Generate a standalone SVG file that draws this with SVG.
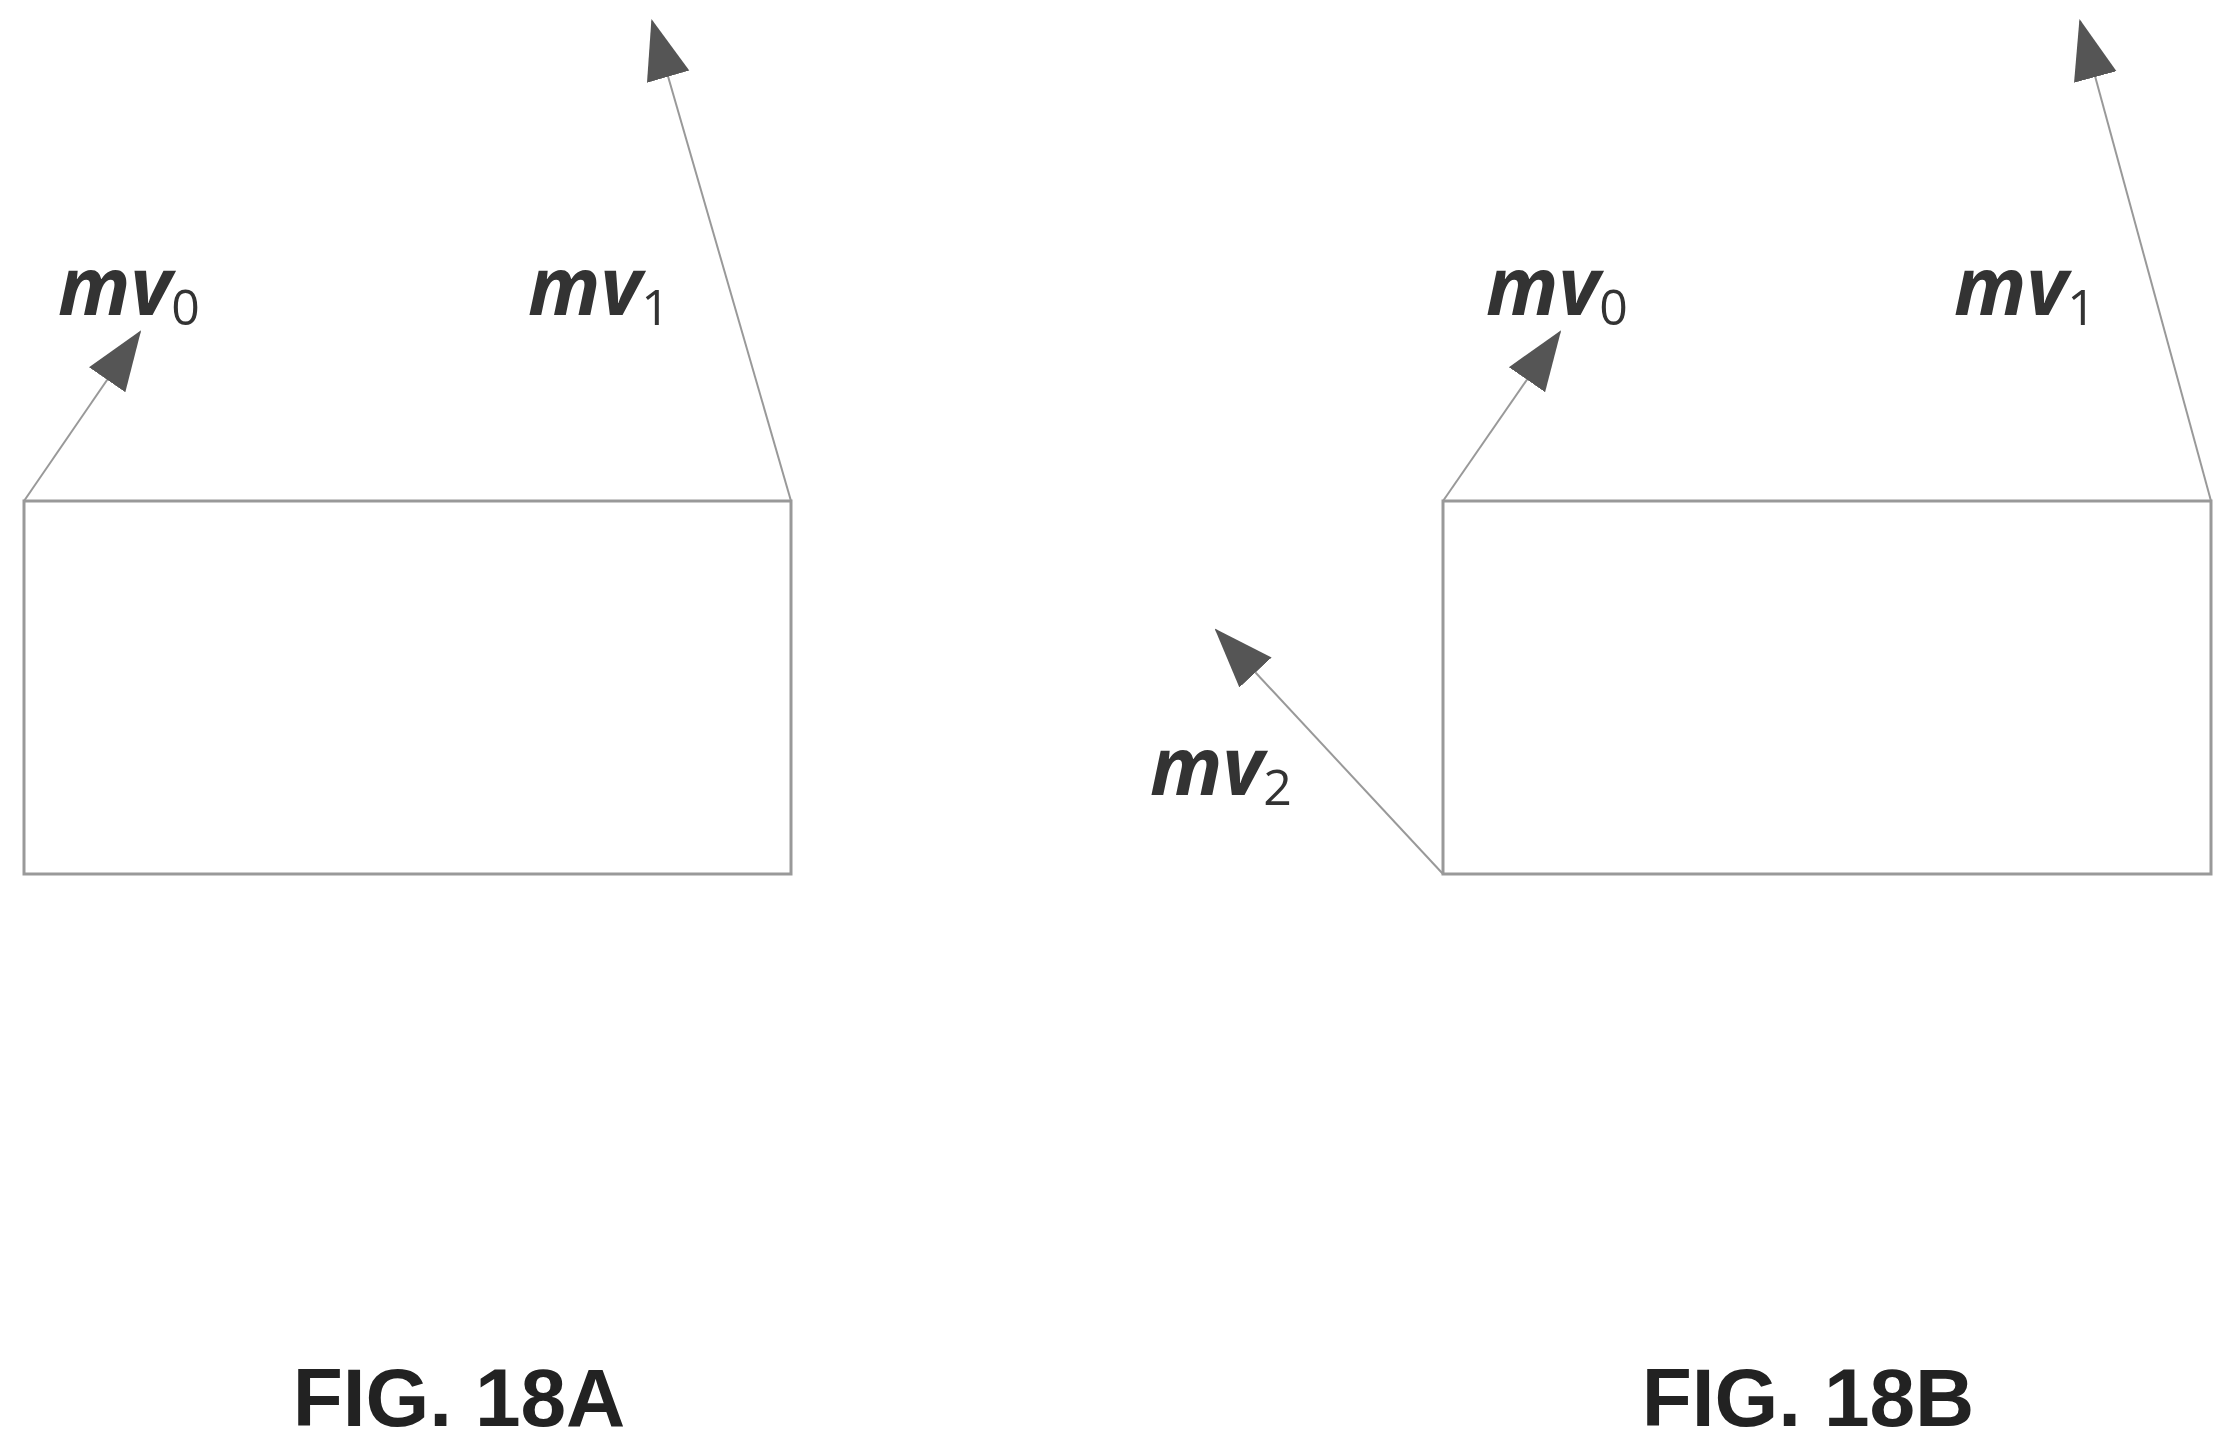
<svg xmlns="http://www.w3.org/2000/svg" width="2236" height="1441" viewBox="0 0 2236 1441">
<style>
.box{fill:#fff;stroke:#999;stroke-width:3}
.ln{stroke:#999;stroke-width:2;fill:none;marker-end:url(#ah)}
.mv{font-family:"Open Sans","Liberation Sans",sans-serif;font-weight:bold;font-style:italic;font-size:80px;fill:#333}
.sub{font-family:"Open Sans","Liberation Sans",sans-serif;font-weight:normal;font-style:normal;font-size:50px;fill:#333}
.fig{font-family:"Liberation Sans",Arial,sans-serif;font-weight:bold;font-size:82px;fill:#222;text-anchor:middle}
</style>
<defs>
<marker id="ah" markerUnits="userSpaceOnUse" markerWidth="60" markerHeight="50" viewBox="0 0 60 50" refX="58" refY="25" orient="auto">
<path d="M0,3 L60,25 L0,47 Z" fill="#555"/>
</marker>
</defs>
<rect width="2236" height="1441" fill="#fff"/>
<g id="boxA"><rect class="box" x="24" y="501" width="767" height="373"/></g>
<g id="boxB"><rect class="box" x="1443" y="501" width="768" height="373"/></g>
<g id="connectors">
<line class="ln" x1="24" y1="501" x2="140" y2="332"/>
<line class="ln" x1="791" y1="501" x2="652" y2="21"/>
<line class="ln" x1="1443" y1="501" x2="1560" y2="332"/>
<line class="ln" x1="2211" y1="501" x2="2080" y2="21"/>
<line class="ln" x1="1443" y1="874" x2="1216" y2="630"/>
</g>
<g id="labels">
<text class="mv" x="58" y="315">mv<tspan class="sub" dy="10">0</tspan></text>
<text class="mv" x="528" y="315">mv<tspan class="sub" dy="10">1</tspan></text>
<text class="mv" x="1486" y="315">mv<tspan class="sub" dy="10">0</tspan></text>
<text class="mv" x="1954" y="315">mv<tspan class="sub" dy="10">1</tspan></text>
<text class="mv" x="1150" y="795">mv<tspan class="sub" dy="10">2</tspan></text>
<text class="fig" x="459" y="1426">FIG. 18A</text>
<text class="fig" x="1808" y="1426">FIG. 18B</text>
</g>
</svg>
